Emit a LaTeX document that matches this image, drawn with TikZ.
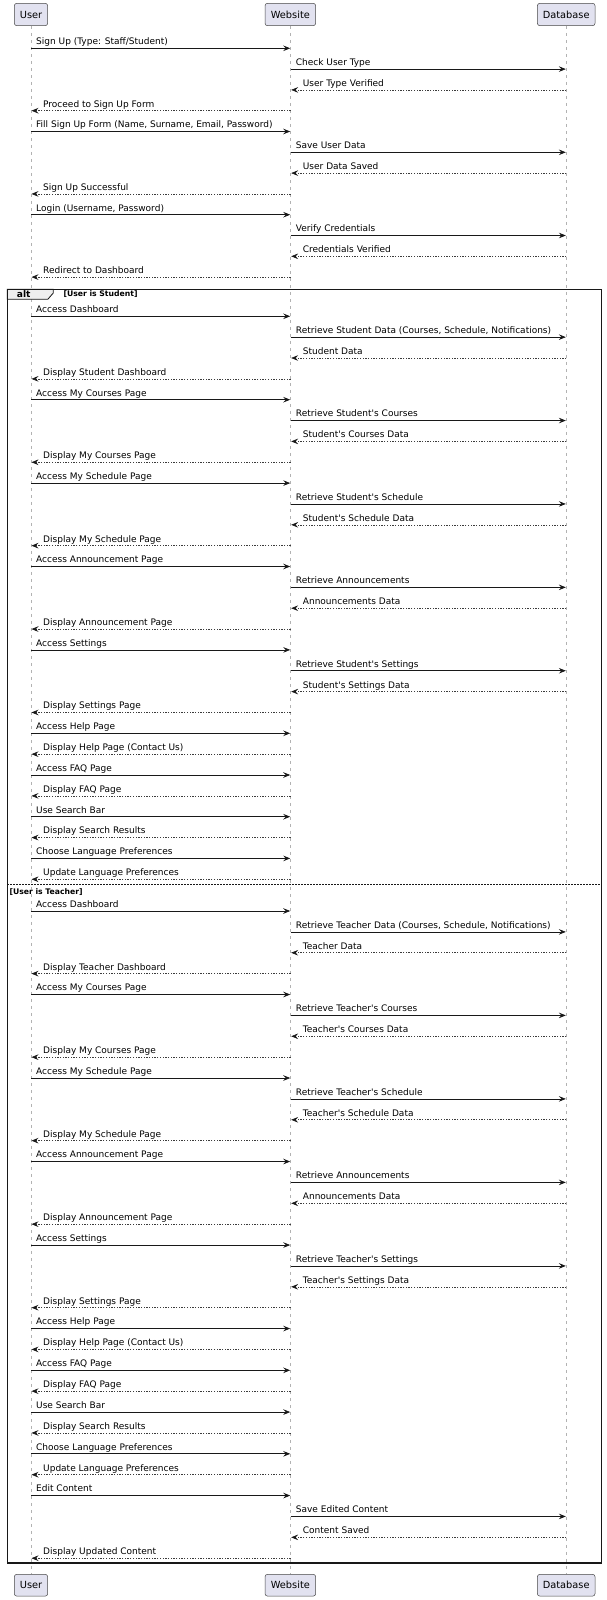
\documentclass[tikz,border=0pt]{standalone}
\usepackage{fontspec}
\setmainfont{DejaVu Sans}
\usetikzlibrary{arrows.meta}
\definecolor{partfill}{HTML}{E2E2F0}
\definecolor{ink}{HTML}{181818}
\definecolor{tabfill}{HTML}{EEEEEE}
\newcounter{msgno}
\newcommand\ap{\textquotesingle}
\def\xU{31}
\def\xW{290.7}
\def\xD{566.3}
\newcommand\smsg[4]{%
  \stepcounter{msgno}%
  \pgfmathsetmacro\fx{\csname x#1\endcsname}%
  \pgfmathsetmacro\tx{\csname x#2\endcsname}%
  \pgfmathsetmacro\ex{\fx<\tx ? \tx-0.5 : \tx+0.5}%
  \coordinate (a\themsgno) at (\fx,\cury);
  \coordinate (b\themsgno) at (\ex,\cury);
  \draw[#3] (a\themsgno) -- (b\themsgno);
  \pgfmathsetmacro\lx{\fx<\tx ? \fx+5 : \tx+12}%
  \node[msglabel] (l\themsgno) at (\lx,\cury-3.6) {#4};
  \pgfmathsetmacro\cury{\cury+\gap}%
}
\tikzset{
  participant/.style={draw=ink!80, line width=0.5pt, fill=partfill, rounded corners=2.5pt,
    inner sep=0pt, font=\fontsize{9.8}{11}\selectfont, text=black},
  lifeline/.style={draw=gray!60, line width=0.5pt, dash pattern=on 3.5pt off 3.5pt},
  req/.style={draw=ink, line width=0.7pt, -{Stealth[length=7pt,width=5.6pt,inset=2.6pt]}},
  rep/.style={draw=ink!85, line width=0.6pt, dash pattern=on 1.3pt off 1.4pt, -{Stealth[length=7pt,width=5.6pt,inset=2.6pt,ink]}},
  msglabel/.style={anchor=base west, inner sep=0pt, font=\fontsize{9}{10}\selectfont, text=black},
  frameline/.style={draw=ink, line width=1.2pt},
  guard/.style={anchor=base west, inner sep=0pt, font=\bfseries\fontsize{7.7}{9}\selectfont, text=black},
}
\begin{document}
\begin{tikzpicture}[x=1pt,y=-1pt]
\useasboundingbox (0,0) rectangle (606,1600);
% participants
\node[participant, minimum width=33.4pt, minimum height=22.4pt] (ut) at (31,14.5) {User};
\node[participant, minimum width=50.7pt, minimum height=22.4pt] (wt) at (290.35,14.5) {Website};
\node[participant, minimum width=57.7pt, minimum height=22.4pt] (dt) at (566.2,14.5) {Database};
\node[participant, minimum width=33.4pt, minimum height=21.8pt] (ub) at (31,1585.2) {User};
\node[participant, minimum width=50.7pt, minimum height=21.8pt] (wb) at (290.35,1585.2) {Website};
\node[participant, minimum width=57.7pt, minimum height=21.8pt] (db) at (566.2,1585.2) {Database};
% lifelines
\draw[lifeline] (ut.south) -- (ub.north);
\draw[lifeline] (wt.south) -- (wb.north);
\draw[lifeline] (dt.south) -- (db.north);
% alt frame
\coordinate (fnw) at (7.3,289.3);
\coordinate (fse) at (601.7,1563);
\coordinate (tabA) at (53.3,289.3);
\coordinate (tabB) at (53.3,293);
\coordinate (tabC) at (47.8,299.3);
\coordinate (tabD) at (7.3,299.3);
\draw[ink, line width=0.8pt, fill=tabfill] (fnw) -- (tabA) -- (tabB) -- (tabC) -- (tabD) -- cycle;
\draw[frameline] (fnw) rectangle (fse);
\node[anchor=base west, inner sep=0pt, font=\bfseries\fontsize{9.1}{10}\selectfont] (altlbl) at (16.7,297.3) {alt};
\node[guard] (g1) at (63.3,296.5) {[User is Student]};
\coordinate (elsel) at (7.3,884.3);
\coordinate (elser) at (601.7,884.3);
\draw[draw=ink, line width=0.7pt, dash pattern=on 1.5pt off 1.5pt] (elsel) -- (elser);
\node[guard] (g2) at (9.3,894.2) {[User is Teacher]};
% messages before alt
\def\cury{48.3}\def\gap{20.8}
\smsg{U}{W}{req}{Sign Up (Type: Staff/Student)}
\smsg{W}{D}{req}{Check User Type}
\smsg{D}{W}{rep}{User Type Verified}
\smsg{W}{U}{rep}{Proceed to Sign Up Form}
\smsg{U}{W}{req}{Fill Sign Up Form (Name, Surname, Email, Password)}
\smsg{W}{D}{req}{Save User Data}
\smsg{D}{W}{rep}{User Data Saved}
\smsg{W}{U}{rep}{Sign Up Successful}
\smsg{U}{W}{req}{Login (Username, Password)}
\smsg{W}{D}{req}{Verify Credentials}
\smsg{D}{W}{rep}{Credentials Verified}
\smsg{W}{U}{rep}{Redirect to Dashboard}
% student
\def\cury{316.3}\def\gap{20.85}
\smsg{U}{W}{req}{Access Dashboard}
\smsg{W}{D}{req}{Retrieve Student Data (Courses, Schedule, Notifications)}
\smsg{D}{W}{rep}{Student Data}
\smsg{W}{U}{rep}{Display Student Dashboard}
\smsg{U}{W}{req}{Access My Courses Page}
\smsg{W}{D}{req}{Retrieve Student\ap s Courses}
\smsg{D}{W}{rep}{Student\ap s Courses Data}
\smsg{W}{U}{rep}{Display My Courses Page}
\smsg{U}{W}{req}{Access My Schedule Page}
\smsg{W}{D}{req}{Retrieve Student\ap s Schedule}
\smsg{D}{W}{rep}{Student\ap s Schedule Data}
\smsg{W}{U}{rep}{Display My Schedule Page}
\smsg{U}{W}{req}{Access Announcement Page}
\smsg{W}{D}{req}{Retrieve Announcements}
\smsg{D}{W}{rep}{Announcements Data}
\smsg{W}{U}{rep}{Display Announcement Page}
\smsg{U}{W}{req}{Access Settings}
\smsg{W}{D}{req}{Retrieve Student\ap s Settings}
\smsg{D}{W}{rep}{Student\ap s Settings Data}
\smsg{W}{U}{rep}{Display Settings Page}
\smsg{U}{W}{req}{Access Help Page}
\smsg{W}{U}{rep}{Display Help Page (Contact Us)}
\smsg{U}{W}{req}{Access FAQ Page}
\smsg{W}{U}{rep}{Display FAQ Page}
\smsg{U}{W}{req}{Use Search Bar}
\smsg{W}{U}{rep}{Display Search Results}
\smsg{U}{W}{req}{Choose Language Preferences}
\smsg{W}{U}{rep}{Update Language Preferences}
% teacher
\def\cury{911}\def\gap{20.877}
\smsg{U}{W}{req}{Access Dashboard}
\smsg{W}{D}{req}{Retrieve Teacher Data (Courses, Schedule, Notifications)}
\smsg{D}{W}{rep}{Teacher Data}
\smsg{W}{U}{rep}{Display Teacher Dashboard}
\smsg{U}{W}{req}{Access My Courses Page}
\smsg{W}{D}{req}{Retrieve Teacher\ap s Courses}
\smsg{D}{W}{rep}{Teacher\ap s Courses Data}
\smsg{W}{U}{rep}{Display My Courses Page}
\smsg{U}{W}{req}{Access My Schedule Page}
\smsg{W}{D}{req}{Retrieve Teacher\ap s Schedule}
\smsg{D}{W}{rep}{Teacher\ap s Schedule Data}
\smsg{W}{U}{rep}{Display My Schedule Page}
\smsg{U}{W}{req}{Access Announcement Page}
\smsg{W}{D}{req}{Retrieve Announcements}
\smsg{D}{W}{rep}{Announcements Data}
\smsg{W}{U}{rep}{Display Announcement Page}
\smsg{U}{W}{req}{Access Settings}
\smsg{W}{D}{req}{Retrieve Teacher\ap s Settings}
\smsg{D}{W}{rep}{Teacher\ap s Settings Data}
\smsg{W}{U}{rep}{Display Settings Page}
\smsg{U}{W}{req}{Access Help Page}
\smsg{W}{U}{rep}{Display Help Page (Contact Us)}
\smsg{U}{W}{req}{Access FAQ Page}
\smsg{W}{U}{rep}{Display FAQ Page}
\smsg{U}{W}{req}{Use Search Bar}
\smsg{W}{U}{rep}{Display Search Results}
\smsg{U}{W}{req}{Choose Language Preferences}
\smsg{W}{U}{rep}{Update Language Preferences}
\smsg{U}{W}{req}{Edit Content}
\smsg{W}{D}{req}{Save Edited Content}
\smsg{D}{W}{rep}{Content Saved}
\smsg{W}{U}{rep}{Display Updated Content}
\end{tikzpicture}
\end{document}
